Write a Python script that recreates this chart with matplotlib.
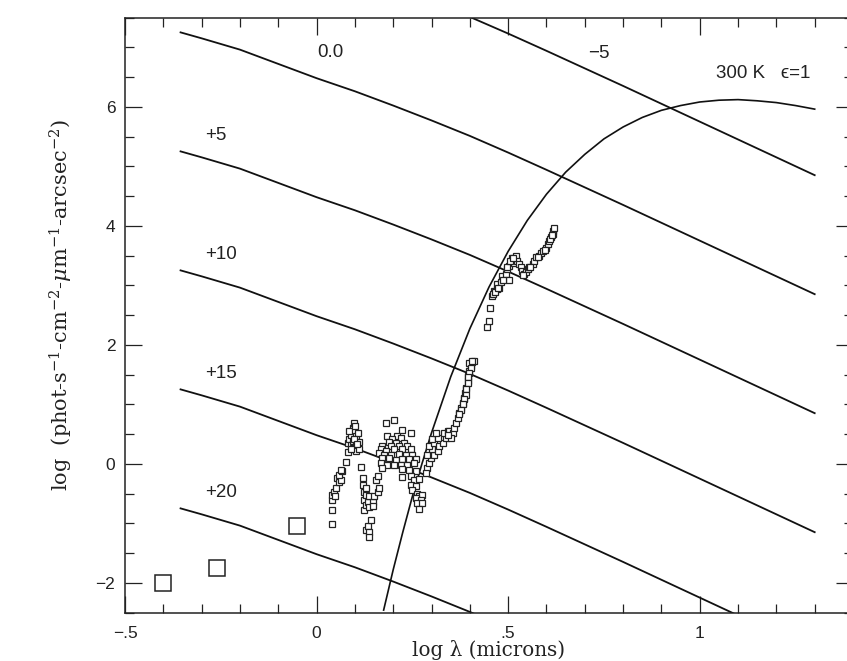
import matplotlib
matplotlib.use("Agg")
import matplotlib.pyplot as plt
from matplotlib.ticker import MultipleLocator, FixedLocator, FixedFormatter

# 0 mag reference spectrum: log photon flux vs log wavelength (microns)
star_logl = [-0.355, -0.3, -0.2, -0.1, 0.0, 0.1, 0.2, 0.3, 0.4, 0.5, 0.6,
             0.7, 0.8, 0.9, 1.0, 1.1, 1.2, 1.3]
star_flux0 = [7.25, 7.15, 6.96, 6.72, 6.48, 6.26, 6.02, 5.77, 5.51, 5.23, 4.94,
              4.645, 4.35, 4.05, 3.75, 3.45, 3.15, 2.85]

# magnitude labels and the matching shift in log flux
mag_labels = ["0.0", "+5", "+10", "+15", "+20", "\u22125"]
mag_shift = [0, -2, -4, -6, -8, 2]
mag_label_x = [0.037, -0.263, -0.25, -0.25, -0.25, 0.738]
mag_label_y = [6.92, 5.51, 3.51, 1.51, -0.49, 6.90]

# 300 K blackbody, emissivity 1
bb_logl = [0.175, 0.2, 0.225, 0.25, 0.275, 0.3, 0.35, 0.4, 0.45, 0.5, 0.55,
           0.6, 0.65, 0.7, 0.75, 0.8, 0.85, 0.9, 0.95, 1.0, 1.05, 1.1, 1.15,
           1.2, 1.25, 1.3]
bb_flux = [-2.46, -1.78, -1.15, -0.55, 0.0, 0.52, 1.46, 2.27, 2.97, 3.57, 4.09,
           4.53, 4.90, 5.20, 5.46, 5.66, 5.82, 5.94, 6.02, 6.08, 6.11, 6.12,
           6.10, 6.07, 6.02, 5.96]

# measured spectrum
spec = [
    (0.039, -1.01), (0.039, -0.78), (0.041, -0.61), (0.041, -0.52), (0.046, -0.47),
    (0.048, -0.55), (0.050, -0.41), (0.054, -0.24), (0.059, -0.30), (0.063, -0.27),
    (0.059, -0.19), (0.067, -0.13), (0.063, -0.10), (0.076, 0.03), (0.081, 0.19),
    (0.081, 0.35), (0.085, 0.41), (0.089, 0.49), (0.089, 0.32), (0.094, 0.60),
    (0.094, 0.38), (0.094, 0.26), (0.098, 0.55), (0.097, 0.69), (0.102, 0.46),
    (0.102, 0.29), (0.102, 0.21), (0.107, 0.52), (0.111, 0.36), (0.111, 0.24),
    (0.085, 0.55), (0.098, 0.42), (0.105, 0.33), (0.090, 0.25), (0.100, 0.63),
    (0.115, -0.05), (0.120, -0.24), (0.120, -0.35), (0.124, -0.47), (0.124, -0.61),
    (0.124, -0.78), (0.128, -0.41), (0.128, -0.52), (0.128, -0.69), (0.128, -1.11),
    (0.133, -0.64), (0.133, -1.05), (0.137, -0.55), (0.137, -0.72), (0.137, -1.14),
    (0.137, -1.23), (0.141, -0.94), (0.146, -0.64), (0.146, -0.71), (0.150, -0.55),
    (0.155, -0.27), (0.159, -0.21), (0.159, -0.47), (0.163, -0.41),
    (0.181, 0.69), (0.202, 0.74), (0.224, 0.57), (0.246, 0.52), (0.185, 0.47),
    (0.211, 0.47), (0.198, 0.42), (0.220, 0.43), (0.189, 0.36), (0.207, 0.35),
    (0.229, 0.35), (0.172, 0.29), (0.194, 0.29), (0.215, 0.29), (0.237, 0.29),
    (0.168, 0.24), (0.181, 0.21), (0.202, 0.24), (0.224, 0.24), (0.246, 0.24),
    (0.163, 0.18), (0.176, 0.15), (0.194, 0.15), (0.215, 0.17), (0.233, 0.15),
    (0.250, 0.15), (0.172, 0.10), (0.189, 0.10), (0.207, 0.07), (0.224, 0.08),
    (0.242, 0.08), (0.259, 0.08), (0.168, 0.01), (0.185, -0.02), (0.202, -0.02),
    (0.220, -0.02), (0.237, -0.02), (0.255, 0.01), (0.172, -0.07), (0.224, -0.09),
    (0.242, -0.10), (0.259, -0.13), (0.224, -0.23), (0.246, -0.21), (0.255, -0.27),
    (0.268, -0.26),
    (0.246, -0.35), (0.259, -0.38), (0.250, -0.44), (0.263, -0.50), (0.268, -0.55),
    (0.276, -0.52), (0.259, -0.58), (0.272, -0.61), (0.263, -0.66), (0.276, -0.66),
    (0.268, -0.76),
    (0.289, -0.07), (0.285, -0.16), (0.294, 0.01), (0.298, 0.10), (0.289, 0.15),
    (0.307, 0.15), (0.302, 0.24), (0.316, 0.21), (0.294, 0.29), (0.307, 0.35),
    (0.320, 0.29), (0.329, 0.35), (0.302, 0.41), (0.316, 0.43), (0.337, 0.43),
    (0.311, 0.52), (0.333, 0.52), (0.342, 0.55),
    (0.346, 0.55), (0.355, 0.52), (0.350, 0.43), (0.342, 0.49), (0.359, 0.60),
    (0.363, 0.69), (0.368, 0.77), (0.372, 0.85), (0.376, 0.94), (0.381, 1.02),
    (0.385, 1.11), (0.388, 1.19), (0.390, 1.28), (0.394, 1.39), (0.396, 1.47),
    (0.398, 1.56), (0.403, 1.64), (0.405, 1.71), (0.410, 1.73), (0.398, 1.70),
    (0.405, 1.73), (0.403, 1.61), (0.398, 1.53), (0.396, 1.45), (0.394, 1.36),
    (0.391, 1.25), (0.390, 1.16), (0.385, 1.08), (0.381, 1.00), (0.376, 0.91),
    (0.372, 0.83),
    (0.444, 2.29), (0.449, 2.40), (0.453, 2.61), (0.457, 2.82), (0.463, 2.91),
    (0.470, 2.93), (0.477, 2.96), (0.472, 3.02), (0.481, 3.05), (0.490, 3.10),
    (0.485, 3.16), (0.494, 3.19), (0.503, 3.08), (0.496, 3.27), (0.503, 3.33),
    (0.510, 3.45), (0.520, 3.50), (0.516, 3.38), (0.524, 3.41), (0.529, 3.36),
    (0.533, 3.30), (0.537, 3.24), (0.542, 3.19), (0.546, 3.22), (0.551, 3.27),
    (0.555, 3.30), (0.564, 3.36), (0.568, 3.41), (0.572, 3.47), (0.581, 3.50),
    (0.585, 3.55), (0.591, 3.58), (0.598, 3.62), (0.603, 3.69), (0.607, 3.75),
    (0.611, 3.81), (0.616, 3.86), (0.618, 3.92), (0.620, 3.97),
    (0.460, 2.85), (0.466, 2.88), (0.474, 2.95), (0.486, 3.08), (0.498, 3.30),
    (0.506, 3.40), (0.512, 3.45), (0.540, 3.17), (0.558, 3.31), (0.577, 3.48),
    (0.595, 3.60), (0.609, 3.78), (0.614, 3.84),
]
spec_logl = [p[0] for p in spec]
spec_flux = [p[1] for p in spec]

# broad-band points
phot_logl = [-0.40, -0.26, -0.05]
phot_flux = [-2.0, -1.75, -1.04]

xticks = [-0.5, 0.0, 0.5, 1.0]
xtick_labels = ["\u2212.5", "0", ".5", "1"]
yticks = [-2, 0, 2, 4, 6]
ytick_labels = ["\u22122", "0", "2", "4", "6"]

plt.rcParams["font.family"] = ["Liberation Sans", "DejaVu Sans"]
ink = "#222222"

fig = plt.figure(figsize=(8.47, 6.61), dpi=100)
ax = fig.add_axes([125 / 847, 1 - 612.5 / 661, 728 / 847, 595 / 661])

for shift in mag_shift:
    ax.plot(star_logl, [f + shift for f in star_flux0], color="#111111", lw=1.3)

ax.plot(bb_logl, bb_flux, color="#111111", lw=1.2)

ax.plot(spec_logl, spec_flux, ls="none", marker="s", ms=4.4, mfc="white",
        mec=ink, mew=0.9)
ax.plot(phot_logl, phot_flux, ls="none", marker="s", ms=11, mfc="white",
        mec=ink, mew=1.1)

for lab, lx, ly in zip(mag_labels, mag_label_x, mag_label_y):
    ax.text(lx, ly, lab, fontsize=13.5, ha="center", va="center", color=ink)
ax.text(1.29, 6.56, "300 K   \u03f5=1", fontsize=13.5, ha="right",
        va="center", color=ink)

ax.set_xlim(-0.5, 1.4)
ax.set_ylim(-2.5, 7.5)

ax.xaxis.set_major_locator(FixedLocator(xticks))
ax.xaxis.set_major_formatter(FixedFormatter(xtick_labels))
ax.xaxis.set_minor_locator(MultipleLocator(0.1))
ax.yaxis.set_major_locator(FixedLocator(yticks))
ax.yaxis.set_major_formatter(FixedFormatter(ytick_labels))
ax.yaxis.set_minor_locator(MultipleLocator(0.5))

ax.tick_params(which="both", direction="in", top=True, right=True,
               width=0.9, colors=ink, labelsize=12.5)
ax.tick_params(which="major", length=12.5)
ax.tick_params(which="minor", length=6.5)
ax.tick_params(axis="x", which="major", pad=9.5)
ax.tick_params(axis="y", which="major", pad=7)
for sp in ax.spines.values():
    sp.set_linewidth(1.1)
    sp.set_color(ink)

ax.set_xlabel("log \u03bb (microns)", family="DejaVu Serif", fontsize=14.3,
              color=ink)
ax.xaxis.set_label_coords(0.5, -0.046)
ax.set_ylabel("log  (phot-s$^{-1}$-cm$^{-2}$-$\\mu$m$^{-1}$-arcsec$^{-2}$)",
              family="DejaVu Serif", fontsize=15, color=ink)
ax.yaxis.label.set_math_fontfamily("dejavuserif")
ax.yaxis.label.set_va("center")
ax.yaxis.set_label_coords(-0.087, 0.517)

fig.savefig("out.png", dpi=100)
